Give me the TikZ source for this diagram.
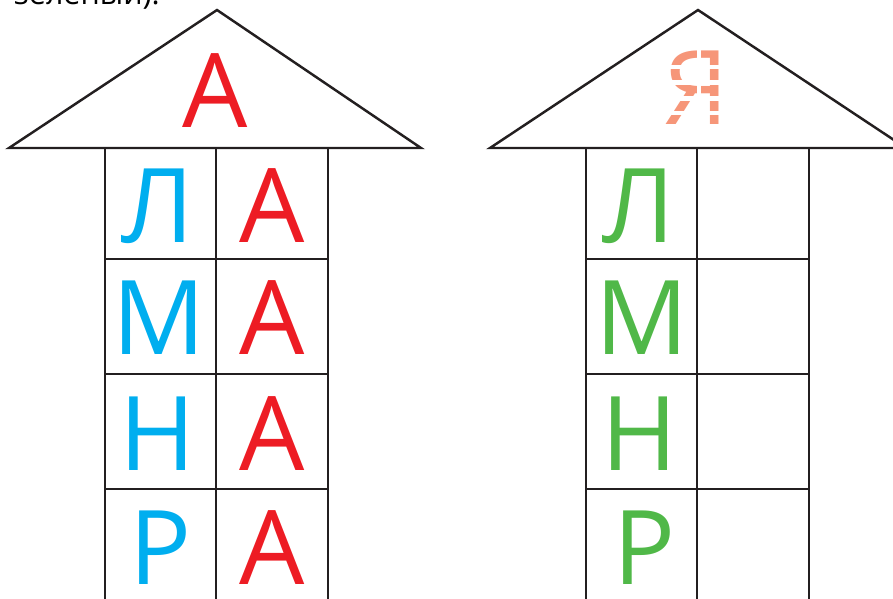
\documentclass[tikz,border=0pt]{standalone}
\usepackage{fontspec}
\setmainfont{Open Sans}
\usepackage{xcolor}

\definecolor{lettblue}{RGB}{0,174,239}
\definecolor{lettred}{RGB}{237,28,36}
\definecolor{lettgreen}{RGB}{80,184,72}
\definecolor{lettpink}{RGB}{246,150,121}
\definecolor{lineblack}{RGB}{35,31,32}

\begin{document}
\begin{tikzpicture}[x=0.03cm,y=-0.03cm,
  roof/.style={draw=lineblack,line width=2.1pt,line join=miter},
  cell/.style={draw=lineblack,line width=2.4pt},
  big/.style={anchor=base,inner sep=0pt,font=\fontsize{88}{92}\selectfont}]
\useasboundingbox (0,0) rectangle (893,599);
\clip (0,0) rectangle (893,599);
% leftover of the task text above
\node[anchor=base west,inner sep=0pt,font=\fontsize{26}{30}\selectfont] (task) at (14,4.5) {зелёный).};
% left house
\draw[roof] (9,148) -- (217,10) -- (421,148) -- cycle;
\node[big,text=lettred] (roofA) at (215,128) {А};
\draw[cell] (105,148) rectangle (216,259);
\draw[cell] (216,148) rectangle (328,259);
\draw[cell] (105,259) rectangle (216,374);
\draw[cell] (216,259) rectangle (328,374);
\draw[cell] (105,374) rectangle (216,489);
\draw[cell] (216,374) rectangle (328,489);
\draw[cell] (105,489) rectangle (216,610);
\draw[cell] (216,489) rectangle (328,610);
\node[big,text=lettblue] (l1) at (158,243) {Л};
\node[big,text=lettred] (a1) at (272,243) {А};
\node[big,text=lettblue] (m1) at (159,355) {М};
\node[big,text=lettred] (a2) at (272,355) {А};
\node[big,text=lettblue] (n1) at (158,470) {Н};
\node[big,text=lettred] (a3) at (272,470) {А};
\node[big,text=lettblue] (r1) at (161,584) {Р};
\node[big,text=lettred] (a4) at (272,584) {А};
% right house
\draw[roof] (490,148) -- (698,10) -- (906,148) -- cycle;
\node[big,text=lettpink] (roofYa) at (696,125) {Я};
% gaps that make the Ya dashed
\fill[white] (660,65) rectangle (725,69);
\fill[white] (660,80) rectangle (725,85);
\fill[white] (660,96) rectangle (725,101);
\fill[white] (660,111) rectangle (725,115);
\fill[white] (697,48) rectangle (701,60);
\fill[white] (697,84) rectangle (701,97);
\draw[cell] (586,148) rectangle (697,259);
\draw[cell] (697,148) rectangle (809,259);
\draw[cell] (586,259) rectangle (697,374);
\draw[cell] (697,259) rectangle (809,374);
\draw[cell] (586,374) rectangle (697,489);
\draw[cell] (697,374) rectangle (809,489);
\draw[cell] (586,489) rectangle (697,610);
\draw[cell] (697,489) rectangle (809,610);
\node[big,text=lettgreen] (l2) at (639,243) {Л};
\node[big,text=lettgreen] (m2) at (642,355) {М};
\node[big,text=lettgreen] (n2) at (640,470) {Н};
\node[big,text=lettgreen] (r2) at (645,584) {Р};
\end{tikzpicture}
\end{document}
